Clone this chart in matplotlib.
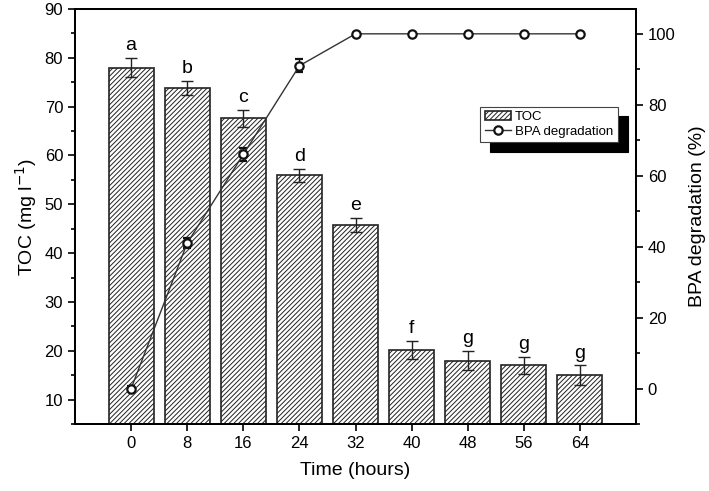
import matplotlib.pyplot as plt
import numpy as np
from matplotlib.ticker import MultipleLocator

plt.rcParams["font.family"] = "Liberation Sans"
plt.rcParams["hatch.color"] = "#666666"
plt.rcParams["hatch.linewidth"] = 0.7

# data
hours = [0, 8, 16, 24, 32, 40, 48, 56, 64]
toc = [78.0, 73.8, 67.6, 55.9, 45.8, 20.2, 18.0, 17.0, 15.0]
toc_err = [2.0, 1.5, 1.8, 1.4, 1.4, 1.8, 1.9, 1.7, 2.0]
letters = ["a", "b", "c", "d", "e", "f", "g", "g", "g"]
bpa = [0, 41, 66, 91, 100, 100, 100, 100, 100]
bpa_err = [0.8, 1.5, 1.8, 1.8, 0, 0, 0, 0, 0]

fig = plt.figure(figsize=(7.09, 4.91), dpi=100)
ax = fig.add_axes([75 / 709, 1 - 424 / 491, (636 - 75) / 709, (424 - 9) / 491])

bars = ax.bar(hours, toc, width=6.4, bottom=0, color="white",
              edgecolor="#222222", linewidth=1.2, hatch="///////",
              label="TOC", zorder=2)
ax.errorbar(hours, toc, yerr=toc_err, fmt="none", ecolor="#222222",
            elinewidth=1.0, capsize=4, capthick=1.0, zorder=3)
for h, v, e, s in zip(hours, toc, toc_err, letters):
    ax.text(h, v + e + 0.8, s, ha="center", va="bottom", fontsize=14)

ax.set_xlim(-8, 72)
ax.set_ylim(5, 90)
ax.set_xticks(hours)
ax.yaxis.set_minor_locator(MultipleLocator(5))
ax.set_yticks(range(10, 91, 10))
ax.tick_params(axis="both", direction="out", labelsize=12, width=1.2, length=5)
ax.tick_params(axis="y", which="minor", direction="out", width=1.2, length=3)
ax.set_xlabel("Time (hours)", fontsize=14, labelpad=8)
ax.set_ylabel("TOC (mg l$^{-1}$)", fontsize=14)
for sp in ax.spines.values():
    sp.set_linewidth(1.4)

ax2 = ax.twinx()
line = ax2.errorbar(hours, bpa, yerr=bpa_err, color="#333333", lw=1.0,
                    marker="o", ms=6, mfc="white", mec="#111111", mew=1.6,
                    ecolor="#111111", elinewidth=1.0, capsize=3,
                    label="BPA degradation", zorder=4)
ax2.set_ylim(-10, 107)
ax2.set_yticks(range(0, 101, 20))
ax2.yaxis.set_minor_locator(MultipleLocator(10))
ax2.tick_params(axis="y", direction="out", labelsize=12, width=1.2, length=5)
ax2.tick_params(axis="y", which="minor", direction="out", width=1.2, length=3)
ax2.set_ylabel("BPA degradation (%)", fontsize=14, labelpad=10)
for sp in ax2.spines.values():
    sp.set_linewidth(1.4)

leg = ax2.legend([bars, line[0]], ["TOC", "BPA degradation"],
                 loc="upper left", bbox_to_anchor=(0.722, 0.765),
                 fontsize=9.5, frameon=True, fancybox=False,
                 shadow={"color": "black", "alpha": 1.0, "ox": 7, "oy": -7},
                 handlelength=2.0, handletextpad=0.3, borderpad=0.35,
                 labelspacing=0.15, borderaxespad=0)
leg.get_frame().set_edgecolor("#444444")
leg.get_frame().set_linewidth(0.8)

fig.savefig("out.png", dpi=100)
